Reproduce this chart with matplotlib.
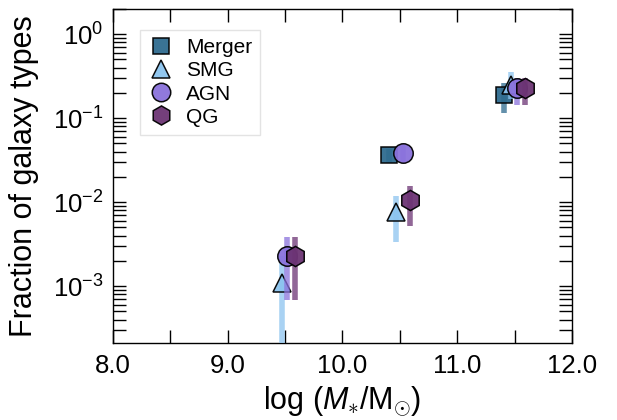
import matplotlib
matplotlib.use('Agg')
import matplotlib.pyplot as plt
from matplotlib.ticker import MultipleLocator, LogLocator, NullFormatter
import numpy as np

plt.rcParams['font.family'] = ['Liberation Sans', 'DejaVu Sans']
plt.rcParams['mathtext.fontset'] = 'custom'
plt.rcParams['mathtext.rm'] = 'Liberation Sans'
plt.rcParams['mathtext.it'] = 'Liberation Sans:italic'

# values
merger_x = [10.41, 11.41]
merger_y = [0.036, 0.188]
merger_lo = [0.029, 0.114]
merger_hi = [0.043, 0.26]

smg_x = [9.47, 10.47, 11.47]
smg_y = [0.0011, 0.0077, 0.25]
smg_lo = [1e-5, 0.0034, 0.17]
smg_hi = [0.0023, 0.012, 0.35]

agn_x = [9.52, 10.53, 11.52]
agn_y = [0.0023, 0.039, 0.226]
agn_lo = [0.00068, 0.030, 0.143]
agn_hi = [0.0039, 0.048, 0.30]

qg_x = [9.59, 10.59, 11.59]
qg_y = [0.0023, 0.0106, 0.226]
qg_lo = [0.00068, 0.0052, 0.143]
qg_hi = [0.0039, 0.0156, 0.30]

series = [
    ('Merger', merger_x, merger_y, merger_lo, merger_hi, '#2f6b8f', 's', 12),
    ('SMG', smg_x, smg_y, smg_lo, smg_hi, '#8cc4ef', '^', 13),
    ('AGN', agn_x, agn_y, agn_lo, agn_hi, '#8a72dc', 'o', 14),
    ('QG', qg_x, qg_y, qg_lo, qg_hi, '#6c3474', 'h', 14.5),
]

fig = plt.figure(figsize=(6.17, 4.2), dpi=100)
ax = fig.add_axes([0.183, 0.183, 0.744, 0.796])

z = 2
for name, x, y, lo, hi, c, m, ms in series:
    y = np.array(y)
    yerr = [y - np.array(lo), np.array(hi) - y]
    ax.errorbar(x, y, yerr=yerr, fmt='none', ecolor=c, elinewidth=4, alpha=0.75, zorder=z)
    ax.plot(x, y, linestyle='none', marker=m, ms=ms, mfc=c, mec='k', mew=1.1,
            alpha=0.95, label=name, zorder=z + 1)
    z += 2

ax.set_yscale('log')
ax.set_xlim(8, 12)
ax.set_ylim(2.1e-4, 2.0)
ax.xaxis.set_major_locator(MultipleLocator(1))
ax.xaxis.set_minor_locator(MultipleLocator(0.5))
ax.xaxis.set_major_formatter(plt.FormatStrFormatter('%.1f'))
ax.set_yticks([1e-3, 1e-2, 1e-1, 1])
ax.yaxis.set_minor_locator(LogLocator(base=10, subs=np.arange(2, 10), numticks=10))
ax.yaxis.set_minor_formatter(NullFormatter())

ax.tick_params(which='both', direction='in', top=True, right=True, length=9.5, width=1, labelsize=18.5)
ax.tick_params(axis='x', pad=8)
ax.tick_params(axis='y', pad=7)
for s in ax.spines.values():
    s.set_linewidth(1)

ax.set_xlabel(r'log ($M_{\ast}/\mathrm{M}_{\odot}$)', fontsize=22, labelpad=4)
ax.set_ylabel('Fraction of galaxy types', fontsize=22, labelpad=10)

leg = ax.legend(loc='upper left', bbox_to_anchor=(0.059, 0.937), borderaxespad=0, fontsize=15,
                frameon=True, fancybox=False, edgecolor='#dddddd', handletextpad=0.6,
                labelspacing=0.2, borderpad=0.4, handlelength=1.2, markerscale=0.95)
leg.get_frame().set_linewidth(1)

fig.savefig('out.png', dpi=100)
